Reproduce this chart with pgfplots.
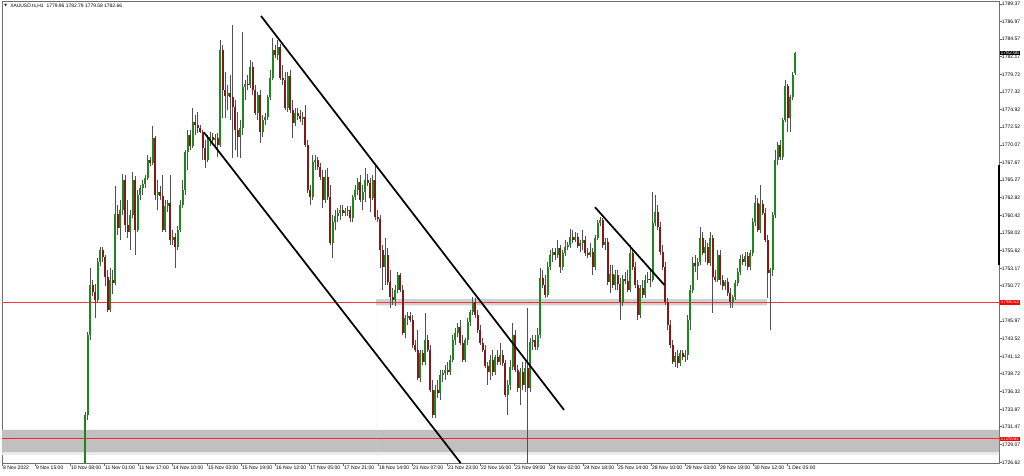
\documentclass[border=0pt]{standalone}
\usepackage{fontspec}
\setmainfont{Liberation Sans}
\newfontfamily\dejavu{DejaVu Sans}
\usepackage{pgfplots}
\usepackage{pgfplotstable}
\pgfplotsset{compat=1.18}
\definecolor{upc}{RGB}{28,135,28}
\definecolor{dnc}{RGB}{135,22,22}
\definecolor{wick}{RGB}{80,80,80}
\definecolor{framec}{RGB}{110,110,110}
\definecolor{bandc}{RGB}{192,192,192}
\definecolor{band2}{RGB}{208,208,208}
\definecolor{mtred}{RGB}{255,0,0}

\pgfplotstableread{
x o h l c
85 1726.52 1733.52 1726.52 1733.11
87.5 1733.11 1744.47 1732.42 1744.06
90 1744.06 1753.23 1743.37 1750.90
92.5 1750.90 1751.59 1749.40 1749.95
95 1749.95 1751.04 1746.39 1748.85
97.5 1748.85 1754.60 1748.58 1754.05
100 1754.05 1756.11 1753.51 1755.69
102.5 1755.69 1756.11 1754.05 1754.74
105 1754.74 1755.01 1750.77 1752.00
107.5 1752.00 1752.96 1747.21 1747.48
110 1747.48 1753.23 1747.21 1751.59
112.5 1751.59 1752.96 1749.67 1751.18
115 1751.18 1764.46 1750.90 1760.62
117.5 1760.62 1761.86 1757.75 1758.71
120 1758.71 1762.54 1757.06 1761.17
122.5 1761.17 1766.10 1760.49 1765.28
125 1765.28 1765.96 1758.16 1759.12
127.5 1759.12 1762.54 1757.34 1758.16
130 1758.16 1761.17 1755.69 1760.49
132.5 1760.49 1766.37 1760.08 1765.28
135 1765.28 1765.83 1755.01 1758.43
137.5 1758.43 1763.91 1758.16 1763.22
140 1763.22 1764.59 1762.54 1764.18
142.5 1764.18 1765.28 1763.22 1764.73
145 1764.73 1765.96 1764.18 1765.55
147.5 1765.55 1768.70 1765.28 1768.02
150 1768.02 1768.43 1767.20 1767.61
152.5 1767.61 1772.67 1767.33 1771.03
155 1771.03 1771.30 1762.54 1763.22
157.5 1763.22 1765.28 1761.17 1763.64
160 1763.64 1764.46 1762.54 1763.09
162.5 1763.09 1765.96 1758.16 1758.43
165 1758.43 1762.54 1758.16 1761.72
167.5 1761.72 1762.54 1760.90 1762.13
170 1762.13 1765.96 1756.38 1757.06
172.5 1757.06 1758.43 1756.38 1757.47
175 1757.47 1758.02 1753.23 1756.11
177.5 1756.11 1758.98 1755.69 1758.43
180 1758.43 1762.54 1758.16 1761.86
182.5 1761.86 1765.28 1761.45 1763.91
185 1763.91 1769.38 1763.22 1769.11
187.5 1769.11 1772.12 1766.65 1771.44
190 1771.44 1772.12 1769.38 1769.93
192.5 1769.93 1775.13 1769.66 1773.22
195 1773.22 1774.18 1771.44 1772.81
197.5 1772.81 1774.59 1771.71 1772.40
200 1772.40 1772.81 1771.71 1771.85
202.5 1771.85 1772.12 1768.02 1769.66
205 1769.66 1770.75 1766.92 1768.02
207.5 1768.02 1771.44 1767.74 1770.75
210 1770.75 1771.85 1769.93 1771.16
212.5 1771.16 1771.71 1770.07 1770.75
215 1770.75 1771.57 1769.66 1771.03
217.5 1771.03 1771.71 1768.43 1770.07
220 1770.07 1784.44 1769.80 1783.07
222.5 1783.07 1783.76 1773.77 1777.60
225 1777.60 1780.06 1773.77 1776.78
227.5 1776.78 1778.28 1774.86 1777.19
230 1777.19 1779.65 1773.49 1776.64
232.5 1776.64 1786.50 1768.29 1775.27
235 1775.27 1776.23 1769.38 1772.12
237.5 1772.12 1774.59 1768.43 1771.16
240 1771.16 1773.49 1768.29 1772.40
242.5 1772.40 1785.54 1771.44 1778.01
245 1778.01 1778.97 1776.23 1778.42
247.5 1778.42 1779.65 1777.60 1778.28
250 1778.28 1781.71 1777.87 1780.75
252.5 1780.75 1781.43 1776.91 1777.60
255 1777.60 1778.28 1774.18 1774.45
257.5 1774.45 1777.33 1773.49 1776.91
260 1776.91 1777.60 1770.34 1771.85
262.5 1771.85 1774.18 1771.16 1773.49
265 1773.49 1774.45 1772.81 1773.90
267.5 1773.90 1776.91 1773.49 1776.64
270 1776.64 1780.34 1776.23 1779.24
272.5 1779.24 1784.72 1778.97 1783.07
275 1783.07 1783.76 1781.98 1782.39
277.5 1782.39 1784.44 1781.71 1783.49
280 1783.49 1783.90 1778.97 1779.24
282.5 1779.24 1781.02 1778.28 1778.97
285 1778.97 1780.06 1774.86 1775.13
287.5 1775.13 1780.06 1774.59 1779.52
290 1779.52 1780.34 1774.45 1774.86
292.5 1774.86 1776.23 1771.03 1773.08
295 1773.08 1775.13 1772.67 1774.45
297.5 1774.45 1775.13 1773.49 1774.04
300 1774.04 1774.86 1773.22 1773.63
302.5 1773.63 1774.59 1772.81 1773.90
305 1773.90 1775.55 1769.80 1770.07
307.5 1770.07 1770.75 1763.50 1763.91
310 1763.91 1764.59 1761.86 1762.95
312.5 1762.95 1768.70 1762.54 1767.74
315 1767.74 1768.70 1766.65 1768.02
317.5 1768.02 1768.43 1766.65 1767.06
320 1767.06 1767.61 1765.28 1765.69
322.5 1765.69 1766.65 1761.45 1762.54
325 1762.54 1766.65 1762.13 1765.69
327.5 1765.69 1766.92 1762.54 1762.95
330 1762.95 1764.59 1756.38 1756.65
332.5 1756.65 1760.49 1754.60 1759.53
335 1759.53 1761.17 1758.43 1760.35
337.5 1760.35 1761.45 1759.53 1760.76
340 1760.76 1761.86 1759.80 1761.17
342.5 1761.17 1761.86 1760.35 1760.76
345 1760.76 1761.45 1760.35 1761.03
347.5 1761.03 1761.72 1760.35 1761.17
350 1761.17 1761.72 1759.53 1760.08
352.5 1760.08 1763.22 1759.53 1762.95
355 1762.95 1764.59 1762.54 1763.91
357.5 1763.91 1765.55 1763.22 1765.00
360 1765.00 1765.96 1762.27 1762.54
362.5 1762.54 1764.59 1761.17 1763.64
365 1763.64 1766.92 1762.27 1765.28
367.5 1765.28 1766.10 1764.46 1764.87
370 1764.87 1765.55 1760.90 1762.81
372.5 1762.81 1765.96 1762.54 1765.28
375 1765.28 1767.47 1759.80 1760.21
377.5 1760.21 1761.17 1759.53 1759.94
380 1759.94 1760.49 1753.23 1755.69
382.5 1755.69 1756.38 1750.22 1753.37
385 1753.37 1757.34 1750.90 1755.01
387.5 1755.01 1755.97 1750.90 1751.31
390 1751.31 1752.96 1747.75 1749.26
392.5 1749.26 1750.49 1748.17 1748.85
395 1748.85 1750.90 1748.03 1750.22
397.5 1750.22 1752.68 1749.81 1752.27
400 1752.27 1752.55 1749.95 1750.22
402.5 1750.22 1750.90 1744.06 1744.33
405 1744.33 1746.80 1743.65 1746.39
407.5 1746.39 1747.21 1745.43 1746.66
410 1746.66 1747.21 1745.84 1746.11
412.5 1746.11 1746.80 1742.28 1742.69
415 1742.69 1743.37 1741.73 1742.00
417.5 1742.00 1744.74 1737.90 1738.17
420 1738.17 1742.00 1737.62 1741.59
422.5 1741.59 1742.00 1739.95 1740.36
425 1740.36 1747.07 1739.95 1743.37
427.5 1743.37 1744.06 1741.73 1742.00
430 1742.00 1742.69 1736.26 1736.53
432.5 1736.53 1737.90 1732.70 1733.11
435 1733.11 1737.21 1732.70 1736.53
437.5 1736.53 1737.90 1735.43 1736.12
440 1736.12 1739.27 1735.16 1738.58
442.5 1738.58 1739.27 1737.62 1738.86
445 1738.86 1739.95 1737.90 1739.27
447.5 1739.27 1740.36 1738.58 1738.99
450 1738.99 1741.32 1738.58 1740.64
452.5 1740.64 1744.06 1740.36 1743.37
455 1743.37 1745.02 1742.69 1744.33
457.5 1744.33 1745.70 1743.79 1745.15
460 1745.15 1746.11 1742.69 1742.96
462.5 1742.96 1744.06 1740.36 1740.64
465 1740.64 1743.65 1740.36 1743.37
467.5 1743.37 1746.39 1742.69 1745.84
470 1745.84 1747.48 1745.29 1747.21
472.5 1747.21 1749.26 1746.80 1748.58
475 1748.58 1749.12 1746.39 1746.80
477.5 1746.80 1747.48 1744.33 1744.74
480 1744.74 1745.43 1742.69 1742.96
482.5 1742.96 1743.65 1741.73 1742.00
485 1742.00 1742.69 1739.54 1739.81
487.5 1739.81 1740.36 1737.21 1738.99
490 1738.99 1741.32 1737.90 1740.64
492.5 1740.64 1742.00 1738.45 1738.99
495 1738.99 1741.32 1738.58 1741.05
497.5 1741.05 1742.00 1739.95 1740.36
500 1740.36 1742.96 1739.95 1741.32
502.5 1741.32 1742.00 1739.81 1740.23
505 1740.23 1740.64 1735.57 1735.84
507.5 1735.84 1737.90 1733.11 1737.21
510 1737.21 1740.64 1736.53 1739.68
512.5 1739.68 1745.70 1739.27 1744.06
515 1744.06 1744.74 1738.99 1739.27
517.5 1739.27 1739.95 1736.26 1736.80
520 1736.80 1739.54 1734.48 1738.99
522.5 1738.99 1740.36 1736.53 1737.21
525 1737.21 1740.36 1736.26 1739.54
527.5 1739.54 1747.75 1726.52 1736.80
530 1736.80 1743.65 1736.26 1743.10
532.5 1743.10 1744.06 1742.00 1743.37
535 1743.37 1744.06 1742.00 1742.42
537.5 1742.42 1745.02 1742.00 1744.06
540 1744.06 1753.23 1743.65 1751.86
542.5 1751.86 1752.96 1750.49 1750.90
545 1750.90 1752.27 1749.12 1749.53
547.5 1749.53 1754.05 1749.26 1753.37
550 1753.37 1755.69 1752.96 1755.01
552.5 1755.01 1755.97 1754.05 1755.42
555 1755.42 1755.97 1754.33 1755.01
557.5 1755.01 1757.06 1754.60 1755.97
560 1755.97 1756.38 1752.55 1753.37
562.5 1753.37 1755.69 1752.96 1755.28
565 1755.28 1757.06 1754.87 1756.11
567.5 1756.11 1756.79 1755.69 1756.38
570 1756.38 1758.57 1755.97 1757.47
572.5 1757.47 1758.43 1756.65 1757.06
575 1757.06 1758.16 1756.79 1757.47
577.5 1757.47 1758.02 1755.97 1756.24
580 1756.24 1757.06 1755.42 1756.65
582.5 1756.65 1758.43 1755.69 1757.06
585 1757.06 1757.61 1754.87 1755.28
587.5 1755.28 1755.97 1754.60 1755.01
590 1755.01 1756.65 1754.74 1755.42
592.5 1755.42 1755.97 1752.27 1753.37
595 1753.37 1757.75 1752.96 1757.34
597.5 1757.34 1759.80 1757.06 1759.39
600 1759.39 1760.21 1758.98 1759.80
602.5 1759.80 1760.08 1755.97 1756.38
605 1756.38 1757.34 1755.69 1756.79
607.5 1756.79 1757.34 1750.90 1751.31
610 1751.31 1753.64 1749.81 1752.41
612.5 1752.41 1753.64 1750.49 1750.90
615 1750.90 1752.96 1750.22 1752.27
617.5 1752.27 1752.96 1750.22 1751.04
620 1751.04 1751.86 1746.11 1748.58
622.5 1748.58 1752.27 1748.03 1751.73
625 1751.73 1752.68 1751.04 1751.45
627.5 1751.45 1752.96 1749.95 1750.22
630 1750.22 1756.38 1749.95 1755.28
632.5 1755.28 1755.69 1752.96 1753.37
635 1753.37 1754.05 1750.49 1750.90
637.5 1750.90 1751.59 1746.11 1746.80
640 1746.80 1750.90 1746.39 1750.49
642.5 1750.49 1751.59 1749.12 1749.53
645 1749.53 1752.27 1749.12 1751.59
647.5 1751.59 1752.68 1751.18 1751.73
650 1751.73 1753.23 1750.63 1751.59
652.5 1751.59 1763.64 1751.31 1759.39
655 1759.39 1763.22 1758.98 1760.90
657.5 1760.90 1761.86 1758.43 1758.84
660 1758.84 1759.53 1755.01 1755.42
662.5 1755.42 1756.38 1752.96 1753.37
665 1753.37 1754.05 1748.17 1748.58
667.5 1748.58 1749.12 1744.74 1745.43
670 1745.43 1746.11 1742.28 1742.69
672.5 1742.69 1743.37 1740.09 1740.36
675 1740.36 1741.73 1739.68 1741.18
677.5 1741.18 1742.00 1739.54 1740.23
680 1740.23 1742.00 1739.81 1741.59
682.5 1741.59 1742.00 1740.64 1741.05
685 1741.05 1742.00 1740.36 1741.32
687.5 1741.32 1746.80 1740.64 1746.11
690 1746.11 1750.90 1744.74 1750.22
692.5 1750.22 1754.74 1749.81 1753.92
695 1753.92 1755.01 1752.68 1753.51
697.5 1753.51 1754.60 1751.59 1754.05
700 1754.05 1758.84 1753.64 1757.34
702.5 1757.34 1758.16 1755.01 1755.28
705 1755.28 1757.06 1754.05 1756.11
707.5 1756.11 1756.65 1753.64 1753.92
710 1753.92 1758.16 1753.51 1757.34
712.5 1757.34 1757.75 1747.07 1752.00
715 1752.00 1752.96 1751.31 1751.59
717.5 1751.59 1755.69 1751.31 1755.01
720 1755.01 1755.69 1750.90 1751.59
722.5 1751.59 1752.27 1750.22 1750.77
725 1750.77 1751.59 1750.22 1751.31
727.5 1751.31 1751.86 1749.40 1749.81
730 1749.81 1750.49 1747.75 1748.58
732.5 1748.58 1749.53 1747.75 1749.26
735 1749.26 1751.59 1748.85 1751.18
737.5 1751.18 1753.23 1750.77 1752.68
740 1752.68 1755.01 1752.27 1754.46
742.5 1754.46 1755.15 1753.64 1754.05
745 1754.05 1755.42 1753.51 1754.87
747.5 1754.87 1755.42 1752.96 1753.37
750 1753.37 1755.69 1752.96 1755.28
752.5 1755.28 1760.08 1754.87 1759.53
755 1759.53 1763.22 1758.98 1762.13
757.5 1762.13 1762.81 1758.16 1758.43
760 1758.43 1764.59 1758.02 1761.99
762.5 1761.99 1762.54 1760.49 1760.76
765 1760.76 1761.45 1756.79 1757.06
767.5 1757.06 1757.75 1749.12 1752.55
770 1752.55 1753.23 1744.74 1752.96
772.5 1752.96 1760.90 1752.14 1760.49
775 1760.49 1769.38 1760.08 1768.02
777.5 1768.02 1770.48 1767.33 1770.07
780 1770.07 1770.75 1768.02 1768.43
782.5 1768.43 1773.77 1768.02 1773.49
785 1773.49 1778.97 1773.22 1778.15
787.5 1778.15 1778.42 1771.85 1773.77
790 1773.77 1776.91 1771.85 1776.64
792.5 1776.64 1780.06 1776.23 1779.65
795 1779.96 1782.79 1779.58 1782.66
}\candles

\begin{document}
\begin{tikzpicture}
\begin{axis}[
  name=ax, scale only axis,
  width=747.75pt, height=346.125pt,
  xmin=2, xmax=999, ymin=1726.52, ymax=1789.71,
  clip=false,
  axis line style={framec, line width=0.7pt},
  tick align=outside,
  major tick length=2pt,
  tick style={framec, line width=0.6pt},
  ytick pos=right, yticklabel pos=right,
  xtick pos=bottom,
  ytick={1726.62,1729.07,1731.47,1733.87,1736.32,1738.72,1741.12,1743.52,1745.97,1748.37,1750.77,1753.17,1755.62,1758.02,1760.42,1762.82,1765.27,1767.67,1770.07,1772.52,1774.92,1777.32,1779.72,1782.17,1784.57,1786.97,1789.37},
  yticklabels={1726.62,1729.07,1731.47,1733.87,1736.32,1738.72,1741.12,1743.52,1745.97,1748.37,1750.77,1753.17,1755.62,1758.02,1760.42,1762.82,1765.27,1767.67,1770.07,1772.52,1774.92,1777.32,1779.72,1782.17,1784.57,1786.97,1789.37},
  xtick={2,35,70,104,138,172,207,241,275,309,343,378,412,447,480,514,549,583,617,651,685,719,753,787},
  xticklabels={8 Nov 2022,9 Nov 15:00,10 Nov 08:00,11 Nov 01:00,11 Nov 17:00,14 Nov 10:00,15 Nov 03:00,15 Nov 19:00,16 Nov 12:00,17 Nov 05:00,17 Nov 21:00,18 Nov 14:00,21 Nov 07:00,21 Nov 23:00,22 Nov 16:00,23 Nov 09:00,24 Nov 02:00,24 Nov 18:00,25 Nov 14:00,28 Nov 10:00,29 Nov 03:00,29 Nov 19:00,30 Nov 12:00,1 Dec 05:00},
  tick label style={font=\fontsize{3.8pt}{4.5pt}\selectfont, text=black, inner sep=0pt},
  yticklabel style={anchor=west},
  xticklabel style={anchor=north west, xshift=0.6pt},
  axis background/.style={fill=white},
]
% bottom grey zone
\addplot[draw=none, fill=bandc, forget plot] coordinates {(2,1731.05) (999,1731.05) (999,1727.97) (2,1727.97)} \closedcycle;
\addplot[draw=none, fill=black!8, forget plot] coordinates {(2,1727.97) (999,1727.97) (999,1727.60) (2,1727.60)} \closedcycle;
\addplot[mtred!85!white, line width=0.75pt, forget plot] coordinates {(2,1729.81) (999,1729.81)};
% resistance/support zone
\addplot[draw=none, fill=band2, forget plot] coordinates {(376,1748.95) (767,1748.95) (767,1748.10) (376,1748.10)} \closedcycle;
\addplot[mtred!80!white, line width=0.75pt, forget plot] coordinates {(2,1748.53) (999,1748.53)};

% wicks
\addplot[draw=none, mark=none, forget plot,
  error bars/.cd, y dir=plus, y explicit, error mark=none,
  error bar style={draw=wick, line width=0.65pt}]
  table[x=x, y=l, y error plus expr={\thisrow{h}-\thisrow{l}}] {\candles};
% up bodies
\addplot[draw=none, mark=none, forget plot,
  error bars/.cd, y dir=plus, y explicit, error mark=none,
  error bar style={draw=upc, line width=1.5pt}]
  table[x=x, y expr={\thisrow{c}>=\thisrow{o} ? \thisrow{o} : nan},
        y error plus expr={max(\thisrow{c}-\thisrow{o},0.08)}] {\candles};
% down bodies
\addplot[draw=none, mark=none, forget plot,
  error bars/.cd, y dir=plus, y explicit, error mark=none,
  error bar style={draw=dnc, line width=1.5pt}]
  table[x=x, y expr={\thisrow{c}<\thisrow{o} ? \thisrow{c} : nan},
        y error plus expr={\thisrow{o}-\thisrow{c}}] {\candles};

% trend lines
\addplot[black, line width=1.3pt, forget plot] coordinates {(261,1787.73) (564,1733.79)};
\addplot[black, line width=1.3pt, forget plot] coordinates {(204,1771.78) (460.6,1726.52)};
\addplot[black, line width=1.3pt, forget plot] coordinates {(595,1761.54) (664.3,1750.90)};
% scale marker on right border
\addplot[black, line width=1.4pt, forget plot] coordinates {(999.4,1767.33) (999.4,1753.64)};

% price labels
\node[fill=black, text=white, anchor=west, inner xsep=0.6pt, inner ysep=0.45pt,
      font=\fontsize{3.8pt}{4.5pt}\selectfont] at (axis cs:999.5,1782.66) {1782.66};
\node[fill=mtred, text=white, anchor=west, inner xsep=0.6pt, inner ysep=0.45pt,
      font=\fontsize{3.8pt}{4.5pt}\selectfont] at (axis cs:999.5,1748.53) {1748.53};
\node[fill=mtred, text=white, anchor=west, inner xsep=0.6pt, inner ysep=0.45pt,
      font=\fontsize{3.8pt}{4.5pt}\selectfont] at (axis cs:999.5,1729.81) {1729.81};
\end{axis}
% title
\node[anchor=center, inner sep=0pt, font=\dejavu\fontsize{2.6pt}{3pt}\selectfont] at ([xshift=2.7pt,yshift=-2.8pt]ax.north west) {▼};
\node[anchor=west, inner sep=0pt, font=\fontsize{3.7pt}{4.4pt}\selectfont] at ([xshift=6pt,yshift=-3.2pt]ax.north west) {XAUUSD.ts,H1\hspace{2.2pt}1779.96 1782.79 1779.58 1782.66};
\pgfresetboundingbox
\path[use as bounding box] ([xshift=-1.5pt,yshift=-9pt]ax.south west) rectangle ([xshift=18.75pt,yshift=1.125pt]ax.north east);
\end{tikzpicture}
\end{document}
